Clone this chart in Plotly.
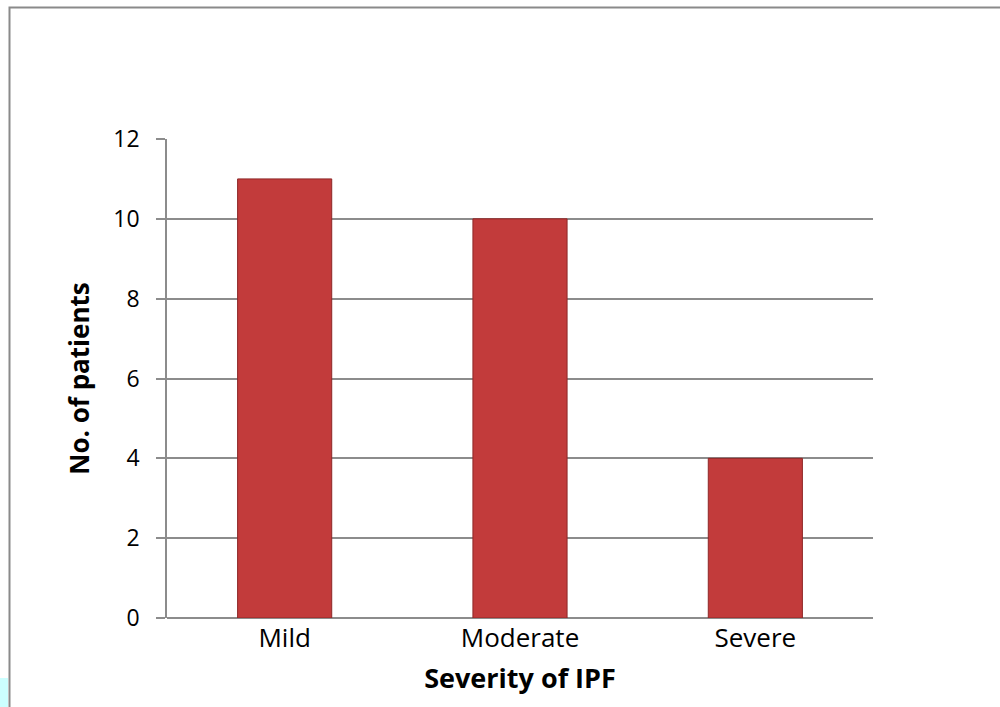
import plotly.graph_objects as go

# Patients by IPF severity
severity = ["Mild", "Moderate", "Severe"]
patients = [11, 10, 4]
y_ticks = [0, 2, 4, 6, 8, 10, 12]

W, H = 1000, 707
L, R, T, B = 167, 127, 139, 89
pw, ph = W - L - R, H - T - B


def px_x(x):
    return (x - L) / pw


def px_y(y):
    return (H - B - y) / ph


fig = go.Figure(
    go.Bar(
        x=severity,
        y=patients,
        marker=dict(color="#C23B3B", line=dict(color="#8E2727", width=1)),
        width=0.4,
        hoverinfo="x+y",
    )
)

fig.update_layout(
    width=W,
    height=H,
    margin=dict(l=L, r=R, t=T, b=B),
    paper_bgcolor="white",
    plot_bgcolor="white",
    showlegend=False,
    font=dict(family="'Open Sans', sans-serif", color="#000000", size=20),
    xaxis=dict(
        showgrid=False,
        showline=False,
        ticks="",
        tickfont=dict(size=26),
        ticklabelstandoff=2,
        title=dict(text="<b>Severity of IPF</b>", font=dict(size=27), standoff=15),
    ),
    yaxis=dict(
        range=[0, 12],
        tickvals=y_ticks,
        showgrid=True,
        gridcolor="#8C8C8C",
        gridwidth=1.5,
        showline=True,
        linecolor="#8C8C8C",
        linewidth=1.5,
        ticks="outside",
        ticklen=9,
        tickcolor="#8C8C8C",
        tickwidth=1.5,
        tickfont=dict(size=23),
        ticklabelstandoff=12,
        zeroline=True,
        zerolinecolor="#8C8C8C",
        zerolinewidth=1.5,
        title=dict(text="<b>No. of patients</b>", font=dict(size=26), standoff=16),
    ),
    shapes=[
        # outer chart frame
        dict(
            type="rect", xref="paper", yref="paper",
            x0=px_x(9.5), x1=px_x(1010), y0=px_y(7.5), y1=px_y(720),
            line=dict(color="#8A8A8A", width=2), fillcolor="rgba(0,0,0,0)",
            layer="below",
        ),
        # small cyan strip in the lower-left corner
        dict(
            type="rect", xref="paper", yref="paper",
            x0=px_x(0), x1=px_x(8), y0=px_y(707), y1=px_y(678),
            line=dict(width=0), fillcolor="#CCFFFF", layer="below",
        ),
    ],
)

fig.write_html("out.html")
